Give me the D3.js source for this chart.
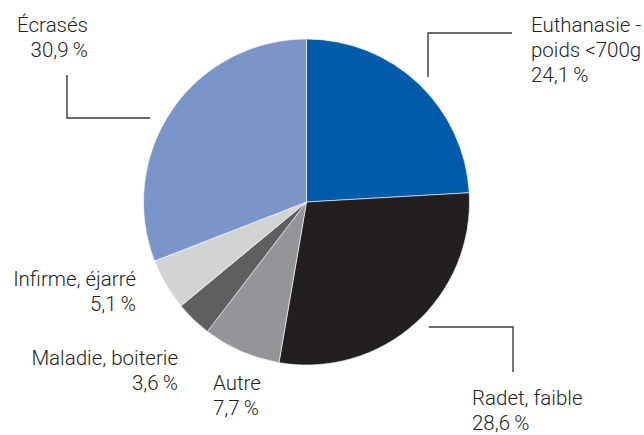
<!DOCTYPE html>
<html><head><meta charset="utf-8">
<script src="https://cdn.jsdelivr.net/npm/d3@7"></script>
<style>html,body{margin:0;padding:0;background:#fff;}svg{display:block;}</style>
</head><body>
<svg id="c" width="644" height="435"></svg>
<script>
const categories = ["Euthanasie - poids <700g", "Radet, faible", "Autre", "Maladie, boiterie", "Infirme, éjarré", "Écrasés"];
const labelLines = [["Euthanasie -", "poids <700g"], ["Radet, faible"], ["Autre"], ["Maladie, boiterie"], ["Infirme, éjarré"], ["Écrasés"]];
const values = [24.1, 28.6, 7.7, 3.6, 5.1, 30.9];
const colors = ["#005bab", "#231f20", "#939598", "#5e5f61", "#d1d3d4", "#7a95ca"];

// label layout (x, first baseline, anchor)
const labelLayout = [
  {x: 531, y: 32, anchor: "start"},
  {x: 472, y: 405, anchor: "start"},
  {x: 213, y: 390, anchor: "start"},
  {x: 178, y: 365, anchor: "end"},
  {x: 136, y: 286, anchor: "end"},
  {x: 88, y: 32, anchor: "end"}
];
const leaders = [
  [[428, 77], [428, 33], [512, 33]],
  [[429, 327], [513, 327], [513, 372]],
  null, null, null,
  [[67, 75], [67, 118], [150, 118]]
];

const svg = d3.select("#c");
const cx = 306.5, cy = 202, R = 163;
const pie = d3.pie().sort(null).value(d => d)(values);
const arc = d3.arc().innerRadius(0).outerRadius(R);
const g = svg.append("g").attr("transform", `translate(${cx},${cy})`);
g.selectAll("path").data(pie).join("path")
  .attr("d", arc).attr("fill", (d, i) => colors[i])
  .attr("stroke", "#fff").attr("stroke-width", 0.6);

const fmt = v => d3.format(".1f")(v).replace(".", ",") + "\u2009%";
const line = d3.line();
leaders.forEach(l => {
  if (!l) return;
  svg.append("path").attr("d", line(l)).attr("fill", "none")
    .attr("stroke", "#3a3a3a").attr("stroke-width", 1.4);
});
values.forEach((v, i) => {
  const L = labelLayout[i];
  const t = svg.append("text").attr("x", L.x).attr("y", L.y)
    .attr("text-anchor", L.anchor)
    .attr("font-family", "Roboto, sans-serif").attr("font-weight", 300)
    .attr("font-size", 20.5).attr("fill", "#231f20");
  const lines = labelLines[i].concat([fmt(v)]);
  lines.forEach((s, j) => {
    t.append("tspan").attr("x", L.x).attr("dy", j === 0 ? 0 : 25).text(s);
  });
});
</script>
</body></html>
